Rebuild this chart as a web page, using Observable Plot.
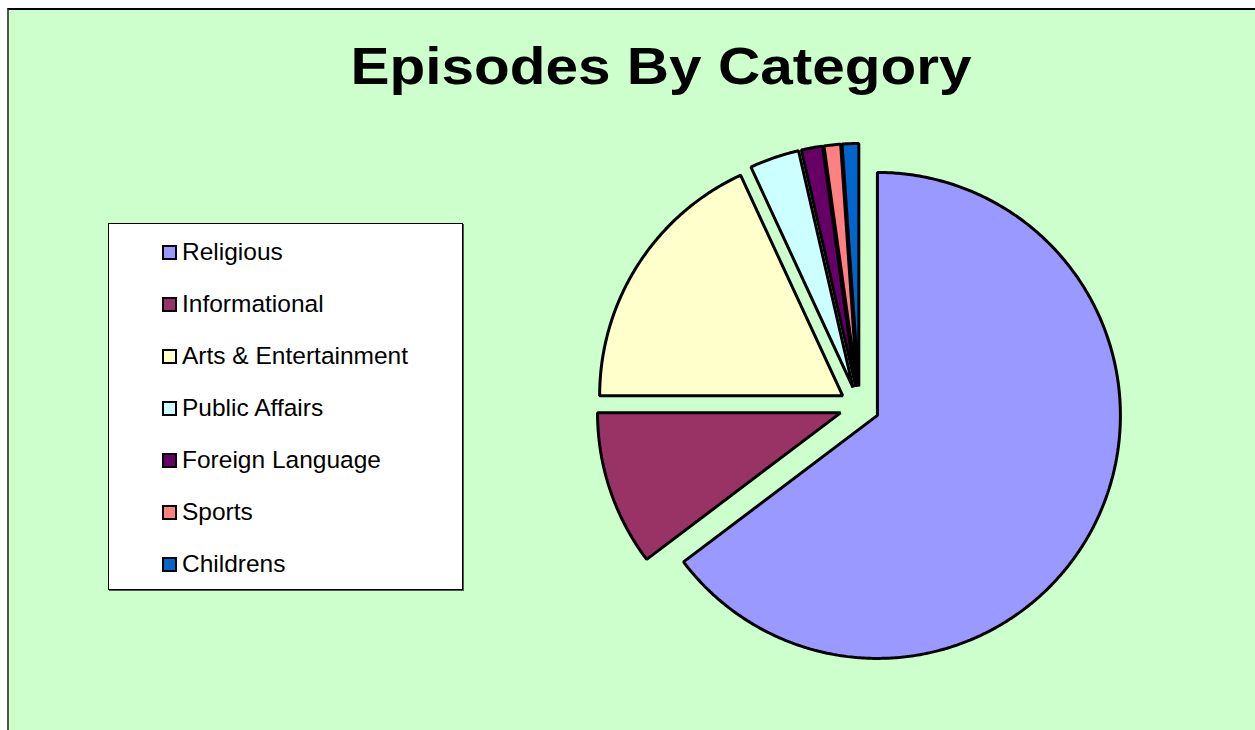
<!DOCTYPE html>
<html>
<head>
<meta charset="utf-8">
<script src="https://cdn.jsdelivr.net/npm/d3@7"></script>
<script src="https://cdn.jsdelivr.net/npm/@observablehq/plot@0.6"></script>
<style>
  html, body { margin: 0; padding: 0; background: #ffffff; overflow: hidden; }
  #frame {
    position: absolute; left: 7px; top: 8px; width: 1260px; height: 740px;
    background: #CCFFCC; border-left: 2px solid #4a5a4a; border-top: 2px solid #000;
    box-sizing: border-box;
  }
  #title {
    position: absolute; left: 661px; top: 37px; transform: translateX(-50%) scaleY(0.9);
    font-family: "Liberation Sans", Arial, sans-serif; font-weight: bold;
    font-size: 58.5px; line-height: 58.5px; white-space: nowrap; color: #000;
  }
  #legend {
    position: absolute; left: 108px; top: 223px; width: 355px; height: 367px;
    background: #fff; border: 1px solid #000; box-shadow: 1px 1px 0 #555; box-sizing: border-box;
  }
  .item { position: absolute; left: 0; font-family: "Liberation Sans", Arial, sans-serif; font-size: 24.5px; line-height: 24.5px; color: #000; white-space: nowrap; }
  .sw { position: absolute; width: 11px; height: 11px; border: 2px solid #000; }
  #pie { position: absolute; left: 559px; top: 106px; }
</style>
</head>
<body>
<div id="frame"></div>
<div id="title">Episodes By Category</div>
<div id="legend"></div>
<div id="pie"></div>
<script>
const categories = ["Religious", "Informational", "Arts & Entertainment", "Public Affairs", "Foreign Language", "Sports", "Childrens"];
const values = [647, 103, 181, 33, 14, 11, 11];
const colors = ["#9999FF", "#993366", "#FFFFCC", "#CCFFFF", "#660066", "#FF8080", "#0066CC"];
const chartTitle = "Episodes By Category";
document.getElementById("title").textContent = chartTitle;

// Legend
const legend = document.getElementById("legend");
categories.forEach((c, i) => {
  const baseline = 259 + 52 * i - 223; // relative to legend top
  const it = document.createElement("div");
  it.className = "item";
  it.style.top = (baseline - 20) + "px";
  it.style.left = "73px";
  it.textContent = c;
  legend.appendChild(it);
  const sw = document.createElement("div");
  sw.className = "sw";
  sw.style.left = "53px";
  sw.style.top = (baseline - 15) + "px";
  sw.style.background = colors[i];
  legend.appendChild(sw);
});

// Pie geometry (angles clockwise from 12 o'clock)
const arcs = d3.pie().sort(null).value(d => d)(values);
const explode = 20 / 243;
const pts = [];
arcs.forEach((a, i) => {
  const mid = (a.startAngle + a.endAngle) / 2;
  const ox = explode * Math.sin(mid), oy = explode * Math.cos(mid);
  pts.push({cat: categories[i], x: ox, y: oy});
  const n = Math.max(2, Math.ceil((a.endAngle - a.startAngle) / (Math.PI / 360)));
  for (let k = 0; k <= n; k++) {
    const t = a.startAngle + (a.endAngle - a.startAngle) * k / n;
    pts.push({cat: categories[i], x: ox + Math.sin(t), y: oy + Math.cos(t)});
  }
});

const K = 300 / 243;
const plot = Plot.plot({
  width: 600, height: 600, margin: 0,
  style: {background: "transparent", overflow: "visible"},
  x: {domain: [-K, K], axis: null},
  y: {domain: [-K, K], axis: null},
  color: {domain: categories, range: colors},
  marks: [
    Plot.line(pts, {x: "x", y: "y", z: "cat", fill: "cat", stroke: "#000", strokeWidth: 3, curve: "linear-closed", strokeLinejoin: "miter"})
  ]
});
document.getElementById("pie").appendChild(plot);
</script>
</body>
</html>
